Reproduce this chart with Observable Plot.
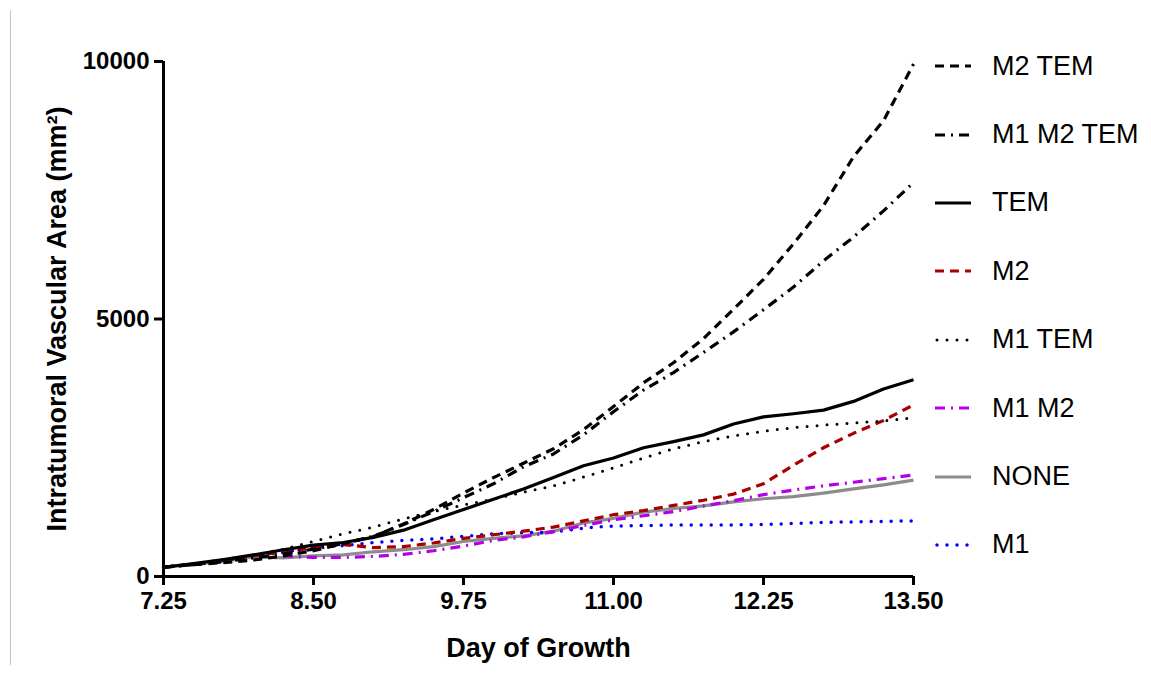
<!DOCTYPE html>
<html><head><meta charset="utf-8">
<script src="https://cdn.jsdelivr.net/npm/d3@7"></script>
<script src="https://cdn.jsdelivr.net/npm/@observablehq/plot@0.6"></script>
<style>
html,body{margin:0;padding:0;background:#fff;}
#wrap{position:relative;width:1151px;height:679px;font-family:"Liberation Sans",Arial,sans-serif;}
#chart{position:absolute;left:0;top:0;}
#edge{position:absolute;left:10px;top:10px;height:655px;border-left:1px solid #c4c4c4;}
#legend{position:absolute;left:935px;top:32px;}
.row{height:68.4px;display:flex;align-items:center;}
.row svg{width:36px;height:10px;margin-right:21px;display:block;}
.row span{font-size:27px;color:#000;white-space:nowrap;}
</style></head><body>
<div id="wrap"><div id="chart"></div><div id="edge"></div><div id="legend"></div></div>
<script>
// ---- data ----
const days = [7.25,7.5,7.75,8.0,8.25,8.5,8.75,9.0,9.25,9.5,9.75,10.0,10.25,10.5,10.75,11.0,11.25,11.5,11.75,12.0,12.25,12.5,12.75,13.0,13.25,13.5];
const m2tem   = [180,230,270,320,400,500,640,775,1020,1300,1620,1920,2200,2480,2850,3300,3760,4150,4620,5190,5770,6460,7200,8150,8850,9950];
const m1m2tem = [180,230,290,360,440,530,640,780,1010,1260,1530,1800,2130,2380,2750,3200,3620,3960,4350,4750,5180,5620,6130,6590,7100,7650];
const tem     = [180,250,330,420,520,610,660,760,900,1100,1300,1500,1700,1920,2150,2300,2500,2620,2750,2960,3100,3160,3230,3400,3640,3820];
const m2      = [180,240,310,400,480,560,620,560,580,650,740,810,880,960,1080,1200,1280,1380,1480,1600,1800,2160,2500,2780,3030,3330];
const m1tem   = [180,250,330,420,530,680,830,960,1120,1260,1390,1500,1640,1760,1930,2110,2300,2480,2620,2730,2820,2890,2940,2980,3020,3080];
const m1m2    = [180,240,300,380,400,370,370,390,430,500,590,700,770,870,990,1100,1180,1260,1370,1470,1590,1680,1760,1830,1900,1970];
const none    = [180,240,300,380,360,400,420,480,520,580,680,740,790,880,1040,1130,1250,1320,1370,1450,1510,1550,1620,1700,1780,1870];
const m1      = [180,240,310,400,470,570,600,660,700,730,780,830,850,860,940,980,990,1000,1000,1000,1010,1030,1050,1060,1070,1080];
const seriesNames = ["M2 TEM","M1 M2 TEM","TEM","M2","M1 TEM","M1 M2","NONE","M1"];
const seriesValues = [m2tem, m1m2tem, tem, m2, m1tem, m1m2, none, m1];
const xTicks = [7.25, 8.5, 9.75, 11.0, 12.25, 13.5];
const yTicks = [0, 5000, 10000];
const xTitle = "Day of Growth";
const yTitle = "Intratumoral Vascular Area (mm²)";

// ---- styles ----
const styles = {
  "M2 TEM":    {stroke:"#000", strokeWidth:3.2, dash:"9,6", cap:"butt"},
  "M1 M2 TEM": {stroke:"#000", strokeWidth:3.2, dash:"10,6,2,6", cap:"butt"},
  "TEM":       {stroke:"#000", strokeWidth:3.2, dash:null, cap:"butt"},
  "M2":        {stroke:"#a80000", strokeWidth:3.2, dash:"9,6", cap:"butt"},
  "M1 TEM":    {stroke:"#000", strokeWidth:3, dash:"0,10", cap:"round"},
  "M1 M2":     {stroke:"#b400e8", strokeWidth:3.2, dash:"10,6,2,6", cap:"butt"},
  "NONE":      {stroke:"#8c8c8c", strokeWidth:3.2, dash:null, cap:"butt"},
  "M1":        {stroke:"#0000ff", strokeWidth:3.5, dash:"0,10", cap:"round"}
};

const rows = seriesNames.flatMap((name, i) => days.map((d, j) => ({series: name, day: d, value: seriesValues[i][j]})));

const drawOrder = ["NONE","M1","M1 M2","M2","M1 TEM","TEM","M1 M2 TEM","M2 TEM"];
const lineMarks = drawOrder.map(name => {
  const s = styles[name];
  return Plot.line(rows.filter(r => r.series === name), {
    x: "day", y: "value", stroke: s.stroke, strokeWidth: s.strokeWidth,
    strokeDasharray: s.dash || undefined, strokeLinecap: s.cap, strokeLinejoin: "round"
  });
});

const chart = Plot.plot({
  width: 1151, height: 679,
  marginLeft: 163, marginRight: 238, marginTop: 61, marginBottom: 103,
  style: {fontFamily: "'Liberation Sans', Arial, sans-serif", color: "#000", background: "transparent"},
  x: {domain: [7.25, 13.5]},
  y: {domain: [0, 10000]},
  marks: [
    ...lineMarks,
    Plot.axisX({ticks: xTicks, tickFormat: d => d.toFixed(2), tickSize: 9, tickPadding: 6, fontSize: 24, fontWeight: "bold", strokeWidth: 3, label: null}),
    Plot.axisY({ticks: yTicks, tickFormat: d3.format("d"), tickSize: 9, tickPadding: 5, fontSize: 24, fontWeight: "bold", strokeWidth: 3, label: null}),
    Plot.ruleY([0], {stroke: "#000", strokeWidth: 3}),
    Plot.ruleX([7.25], {stroke: "#000", strokeWidth: 3}),
    Plot.text([xTitle], {frameAnchor: "bottom", dy: 72, fontSize: 27, fontWeight: "bold", textAnchor: "middle", lineAnchor: "middle", fill: "#000"}),
    Plot.text([yTitle], {frameAnchor: "left", dx: -106, rotate: -90, fontSize: 27, fontWeight: "bold", textAnchor: "middle", lineAnchor: "middle", fill: "#000"})
  ]
});
document.getElementById("chart").appendChild(chart);

// ---- legend ----
const legend = document.getElementById("legend");
seriesNames.forEach(name => {
  const s = styles[name];
  const row = document.createElement("div");
  row.className = "row";
  const ns = "http://www.w3.org/2000/svg";
  const svg = document.createElementNS(ns, "svg");
  svg.setAttribute("width", 36); svg.setAttribute("height", 10);
  const ln = document.createElementNS(ns, "line");
  ln.setAttribute("x1", s.cap === "round" ? 2 : 0); ln.setAttribute("x2", 36);
  ln.setAttribute("y1", 5); ln.setAttribute("y2", 5);
  ln.setAttribute("stroke", s.stroke); ln.setAttribute("stroke-width", s.strokeWidth);
  if (s.dash) ln.setAttribute("stroke-dasharray", s.dash);
  ln.setAttribute("stroke-linecap", s.cap);
  svg.appendChild(ln);
  const t = document.createElement("span");
  t.textContent = name;
  row.appendChild(svg); row.appendChild(t);
  legend.appendChild(row);
});
</script>
</body></html>
